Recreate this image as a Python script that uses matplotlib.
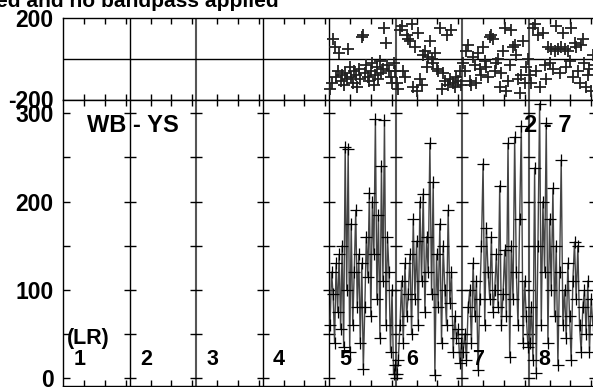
import matplotlib
matplotlib.use('Agg')
import matplotlib.pyplot as plt
import numpy as np

plt.rcParams['font.family'] = ['Liberation Sans', 'DejaVu Sans']
plt.rcParams['font.weight'] = 'bold'

# ---- data ----
panel_labels = ['1', '2', '3', '4', '5', '6', '7', '8']
panel_width = 16
bottom_yticks = [0, 50, 100, 150, 200, 250, 300]
bottom_ylabels = ['0', '', '100', '', '200', '', '300']
top_yticks = [-200, 200]
top_ylabels = ['-200', '200']

amp_p5 = [60, 120, 95, 40, 130, 75, 140, 55, 150, 35, 262, 100, 260, 30, 175, 60, 120, 190, 80, 140,
          40, 130, 10, 80, 160, 115, 210, 70, 200, 140, 293, 90, 185, 45, 240, 110, 292, 60, 160, 120,
          30, 100, 5, 15]
amp_p6 = [5, 20, 60, 110, 40, 130, 70, 95, 140, 50, 180, 90, 155, 60, 200, 110, 209, 75, 160, 120,
          266, 95, 222, 3, 140, 80, 175, 40, 150, 100, 60, 190, 85, 120, 30, 70, 45, 55, 17, 40]
amp_p7 = [30, 50, 20, 80, 100, 40, 130, 70, 110, 9, 90, 150, 243, 60, 170, 120, 90, 160, 75, 100,
          140, 80, 218, 60, 95, 145, 70, 266, 24, 150, 90, 273, 120, 60, 180, 286, 40, 110, 70, 35]
amp_p8 = [40, 80, 20, 238, 6, 150, 311, 60, 200, 120, 289, 40, 180, 100, 215, 70, 150, 15, 120, 247,
          60, 100, 45, 130, 70, 20, 110, 154, 90, 150, 60, 30, 80, 100, 50, 110, 30, 90, 60, 70]

phase_p5 = [-150, -120, 100, 60, -90, -60, 30, -110, -80, -130, -70, -100, 50, -40, -90, -120, -60, -80,
            -140, -50, -100, 110, 120, -70, -30, -90, -110, -60, -20, -130, -80, -40, -100, -10, -70,
            -50, 150, 80, -30, -60, -90, -120, -20, -60]
phase_p6 = [-120, -150, 140, 160, -60, -90, 120, 100, 90, 170, -140, 60, -160, 130, -100, -130, 20, 40,
            -40, 10, 90, 0, -20, 30, -50, -60, 150, -150, -70, -110, 120, -130, -100, 140, -120, -140,
            -90, -110, -60, -130]
phase_p7 = [-20, -60, 40, 70, -110, -130, 10, -30, -120, 30, -50, -80, 60, -10, -40, -90, 110, 120, 100,
            -60, -20, 0, -140, -70, 40, 150, -160, -110, -30, 140, 60, 70, 20, -100, -170, -80, 90,
            -120, -40, 0]
phase_p8 = [-80, -120, 150, 170, -60, 120, -140, -230, 130, -30, -100, 60, -20, 50, -50, 40, 160, 50,
            -70, 60, 130, 50, -40, 40, -10, 150, -90, 80, 60, -60, -120, 70, 100, -20, -140, -80, -50,
            -160, 20, -30]

amp_panels = {5: amp_p5, 6: amp_p6, 7: amp_p7, 8: amp_p8}
phase_panels = {5: phase_p5, 6: phase_p6, 7: phase_p7, 8: phase_p8}

# ---- figure ----
W, H = 593, 387
fig = plt.figure(figsize=(W / 100, H / 100), dpi=100)
L = 63.3 / W
Wd = 532.0 / W
ax_top = fig.add_axes([L, (H - 99.5) / H, Wd, 81.2 / H])
ax_bot = fig.add_axes([L, (H - 386.0) / H, Wd, 286.5 / H])

npan = len(panel_labels)
xmax = npan * panel_width
minor_x = [k * panel_width + o for k in range(npan) for o in (5, 10, 15)]

for ax in (ax_top, ax_bot):
    ax.set_xlim(0, xmax)
    for s in ax.spines.values():
        s.set_linewidth(1.0)
        s.set_color('black')
    ax.set_xticks(minor_x)
    ax.set_xticklabels([])
    ax.tick_params(axis='x', which='both', direction='in', length=4.5, width=1,
                   top=True, bottom=True, labelbottom=False)
    for k in range(1, npan):
        col = '#000000' if k in (1, 3, 4) else '#555555'
        lw = 1.0 if k in (1, 3, 4) else 1.5
        ax.axvline(k * panel_width, color=col, lw=lw, zorder=1)

# top panel
ax_top.set_ylim(-200, 200)
ax_top.axhline(0, color='black', lw=1.0, zorder=1)
ax_top.set_yticks(top_yticks)
ax_top.set_yticklabels(top_ylabels)
ax_top.tick_params(axis='y', length=0, labelsize=16.5, pad=7)

# bottom panel
ax_bot.set_ylim(-9.07, 315.6)
ax_bot.set_yticks(bottom_yticks)
ax_bot.set_yticklabels(bottom_ylabels)
ax_bot.tick_params(axis='y', direction='in', length=5, width=1, labelsize=16.5, pad=7)

# crossing ticks at the panel dividers
for k in range(1, npan + 1):
    ax_bot.plot([k * panel_width] * len(bottom_yticks), bottom_yticks, ls='none',
                marker='_', ms=8.6, mew=1.0, color='black', clip_on=False, zorder=2)

# data
for p, amp in amp_panels.items():
    n = len(amp)
    xs = (p - 1) * panel_width + (np.arange(n) + 0.5) * panel_width / n
    ax_bot.plot(xs, amp, color='#444444', lw=1.0, zorder=3)
    ax_bot.plot(xs, amp, ls='none', marker='+', ms=9, mew=0.9, color='black', zorder=4)
for p, ph in phase_panels.items():
    n = len(ph)
    xs = (p - 1) * panel_width + (np.arange(n) + 0.5) * panel_width / n
    ax_top.plot(xs, ph, ls='none', marker='+', ms=9, mew=1.3, color='#222222',
                clip_on=False, zorder=4)

# annotations
ax_bot.text(16.72, 278.5, 'WB - YS', ha='center', va='baseline', fontsize=17, fontweight='bold')
ax_bot.text(116.6, 278.5, '2 - 7', ha='center', va='baseline', fontsize=17, fontweight='bold')
ax_bot.text(6.0, 38.5, '(LR)', ha='center', va='baseline', fontsize=15.5, fontweight='bold')
for k, lab in enumerate(panel_labels):
    ax_bot.text(k * panel_width + 3.85, 14.7, lab, ha='center', va='baseline',
                fontsize=15.5, fontweight='bold', zorder=5)

fig.text(279 / W, (H - 7) / H, 'ed and no bandpass applied', ha='right', va='baseline',
         fontsize=15.1, fontweight='bold')

fig.savefig('out.png', dpi=100)
